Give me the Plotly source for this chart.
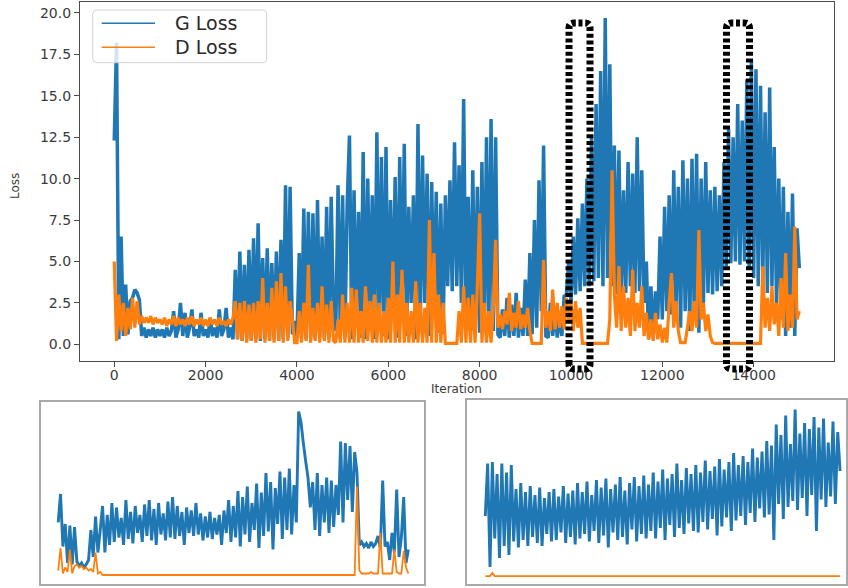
import plotly.graph_objects as go

W, H = 848, 588

# ---------------- data ----------------
iterations = list(range(0, 15001, 50))

g_loss = [
    12.3, 18.2, 0.3, 6.5, 0.5, 3.6, 0.6, 2.6, 2.8, 3.3, 3.1, 2.7, 0.5, 1.0, 0.4, 0.9, 0.5, 1.0, 0.4, 0.9,
    0.5, 0.9, 0.4, 1.0, 0.5, 0.8, 2.0, 0.4, 0.9, 2.5, 0.5, 1.9, 0.4, 1.0, 2.1, 0.5, 0.9, 0.4, 1.9, 0.5,
    0.9, 0.4, 1.6, 0.5, 1.0, 0.4, 2.1, 0.5, 0.9, 2.2, 0.4, 1.0, 0.3, 4.5, 0.3, 5.6, 0.2, 4.8, 0.3, 5.7,
    0.2, 6.4, 0.3, 7.3, 0.2, 5.2, 0.3, 5.8, 0.2, 4.9, 0.3, 5.6, 0.2, 6.3, 0.3, 9.6, 0.4, 9.5, 0.6, 1.4,
    0.5, 5.5, 0.4, 8.2, 0.3, 8.0, 0.4, 7.9, 0.3, 8.7, 0.4, 6.5, 0.3, 8.3, 0.4, 8.9, 1.8, 0.8, 9.6, 0.5,
    9.0, 0.4, 8.5, 12.6, 0.3, 9.3, 1.5, 8.0, 0.4, 11.6, 0.3, 10.0, 2.0, 9.0, 0.3, 12.8, 1.0, 11.3, 0.5, 11.9,
    0.3, 8.7, 1.5, 10.1, 0.4, 11.3, 2.0, 12.1, 0.5, 8.3, 2.5, 9.0, 0.3, 13.3, 1.0, 11.4, 2.5, 10.3, 0.5, 9.8,
    2.0, 9.2, 0.7, 8.5, 0.6, 9.0, 3.5, 9.9, 3.2, 12.2, 3.5, 10.8, 2.5, 14.8, 1.5, 8.9, 0.8, 10.5, 0.6, 9.5,
    0.7, 11.0, 0.8, 12.5, 0.7, 13.6, 0.8, 12.5, 0.6, 0.4, 2.1, 0.5, 2.8, 0.4, 2.4, 0.5, 3.1, 0.4, 2.2, 0.5,
    3.9, 0.5, 5.5, 0.6, 7.5, 1.0, 9.9, 2.0, 12.0, 0.5, 0.4, 2.5, 0.5, 2.2, 0.4, 1.8, 0.5, 2.9, 3.0, 5.0,
    2.5, 6.5, 3.0, 7.6, 3.2, 8.5, 3.5, 10.0, 3.5, 12.5, 3.8, 14.5, 4.0, 16.5, 3.5, 19.7, 4.0, 16.9, 3.5, 12.0,
    3.0, 11.7, 2.5, 9.3, 3.1, 11.0, 3.5, 10.3, 3.1, 12.5, 3.2, 10.5, 2.5, 5.0, 0.3, 3.5, 0.4, 3.2, 1.5, 6.5,
    1.5, 8.3, 2.0, 9.0, 1.8, 10.5, 2.2, 9.5, 1.0, 11.1, 2.0, 10.0, 0.8, 11.2, 1.5, 11.5, 0.7, 10.0, 2.5, 11.0,
    3.1, 9.3, 3.0, 9.5, 3.2, 9.0, 3.5, 11.0, 4.7, 13.0, 4.9, 12.5, 5.0, 14.5, 4.8, 13.5, 5.0, 16.0, 4.5, 17.2,
    4.0, 16.6, 3.5, 15.6, 3.9, 14.0, 3.1, 15.5, 3.5, 11.9, 2.5, 10.0, 1.5, 9.5, 0.5, 8.0, 1.0, 9.1, 0.5, 7.0,
    4.6,
]

d_loss = [
    5.0, 0.2, 3.0, 0.8, 2.5, 0.5, 2.2, 0.9, 2.8, 1.0, 2.6, 1.2, 1.7, 1.3, 1.6, 1.3, 1.7, 1.2, 1.6, 1.3,
    1.5, 1.2, 1.6, 1.1, 1.5, 1.2, 1.7, 1.1, 1.6, 1.2, 1.5, 1.1, 1.6, 1.2, 1.7, 1.1, 1.5, 1.2, 1.6, 1.1,
    1.5, 1.1, 1.6, 1.2, 1.5, 1.1, 1.6, 1.2, 1.4, 1.1, 1.5, 1.2, 1.6, 2.6, 0.3, 2.5, 0.2, 2.6, 0.1, 2.4,
    0.2, 2.5, 0.1, 2.6, 0.3, 4.0, 0.1, 2.5, 0.2, 3.4, 0.1, 3.8, 0.2, 4.3, 0.1, 3.5, 0.2, 2.6, 1.5, 0.1,
    0.1, 2.0, 0.1, 2.5, 0.2, 4.8, 0.1, 2.2, 0.2, 2.5, 0.1, 3.5, 0.2, 2.4, 0.1, 2.6, 0.2, 0.1, 1.5, 0.1,
    3.0, 0.1, 2.5, 0.1, 3.4, 0.1, 3.3, 0.1, 2.0, 0.1, 3.5, 0.2, 2.6, 0.1, 3.0, 0.1, 2.5, 0.1, 2.0, 0.1,
    2.8, 0.1, 5.0, 0.1, 3.0, 0.1, 4.5, 0.1, 2.5, 0.1, 2.0, 0.1, 3.8, 0.1, 2.5, 0.1, 2.2, 0.1, 7.5, 0.1,
    5.5, 0.1, 3.0, 0.1, 2.5, 0.05, 0.05, 0.05, 0.05, 0.05, 0.05, 2.0, 0.1, 3.5, 0.1, 2.8, 0.1, 3.0, 0.1, 3.5,
    7.9, 0.1, 2.5, 0.1, 2.0, 0.1, 2.3, 6.3, 1.0, 1.8, 0.9, 2.0, 1.2, 3.1, 0.8, 1.9, 1.0, 2.6, 0.9, 1.8,
    1.0, 2.2, 0.8, 0.05, 0.05, 0.05, 0.05, 0.05, 5.1, 1.0, 2.0, 0.8, 3.3, 0.9, 2.5, 1.0, 2.3, 0.9, 2.8, 1.5,
    2.5, 0.8, 2.6, 1.0, 2.2, 0.05, 0.05, 0.05, 0.05, 0.05, 0.05, 0.05, 0.05, 0.05, 0.05, 0.05, 0.05, 1.5, 10.5, 3.0,
    1.0, 4.7, 0.8, 3.5, 1.0, 2.8, 0.5, 4.5, 0.8, 2.5, 1.0, 3.5, 0.5, 1.9, 0.3, 1.5, 0.2, 1.9, 0.3, 1.2,
    0.1, 1.0, 0.1, 2.5, 4.3, 1.0, 2.6, 0.8, 0.1, 0.1, 0.1, 1.0, 2.0, 0.8, 2.6, 1.0, 6.9, 1.5, 2.5, 0.8,
    1.8, 0.5, 0.1, 0.05, 0.05, 0.05, 0.05, 0.05, 0.05, 0.05, 0.05, 0.05, 0.05, 0.05, 0.05, 0.05, 0.05, 0.05, 0.05, 0.05,
    0.05, 0.05, 0.05, 0.05, 4.7, 1.0, 2.8, 0.8, 3.5, 1.2, 2.5, 0.5, 4.0, 1.0, 5.5, 0.8, 3.0, 1.0, 7.1, 1.5,
    2.0,
]

# left zoomed inset (first dotted window)
zoom1_index = list(range(151))
zoom1_g = [
    3.5, 5.4, 1.9, 3.4, 0.8, 3.3, 0.7, 3.2, 0.9, 0.6,
    0.8, 0.5, 0.7, 1.0, 3.0, 1.2, 3.9, 1.5, 3.0, 4.6,
    1.5, 4.0, 2.0, 4.8, 2.2, 4.5, 2.5, 3.8, 2.0, 5.0,
    2.4, 4.2, 2.1, 4.6, 2.8, 4.0, 2.2, 4.7, 2.6, 5.0,
    2.3, 4.4, 2.0, 4.8, 2.7, 4.1, 2.3, 4.9, 2.5, 5.2,
    2.4, 4.6, 2.6, 4.2, 2.0, 4.5, 2.8, 4.3, 2.6, 4.8,
    2.7, 4.1, 2.3, 3.9, 2.5, 4.2, 2.4, 3.8, 2.7, 4.0,
    2.0, 4.3, 2.8, 5.0, 2.2, 4.6, 2.5, 5.6, 1.9, 5.2,
    2.7, 5.9, 2.2, 4.8, 3.0, 6.1, 1.8, 5.5, 2.6, 6.8,
    2.9, 6.2, 1.7, 5.8, 3.4, 6.9, 2.4, 6.5, 3.0, 7.1,
    2.7, 6.0, 3.5, 10.9, 10.2, 8.8, 7.6, 6.5, 4.5, 6.2,
    3.0, 6.8, 2.6, 6.0, 3.5, 6.5, 2.8, 6.3, 3.2, 6.0,
    4.0, 8.9, 3.5, 8.8, 5.0, 8.6, 4.2, 8.2, 6.8, 2.0,
    2.2, 1.9, 2.1, 1.8, 2.2, 1.9, 2.1, 2.6, 1.8, 6.3,
    1.9, 2.2, 1.0, 2.8, 1.5, 5.7, 1.2, 2.5, 5.2, 0.8, 1.7,
]
zoom1_d_index = [0, 1, 2, 3, 4, 5, 6, 7, 8, 9, 10, 11, 12, 13, 14, 15, 16, 17, 18, 19,
                 127, 128, 129, 130, 131, 132, 133, 134, 135, 136, 137, 138, 139, 140,
                 141, 142, 143, 144, 145, 146, 147, 148, 149, 150]
zoom1_d = [0.3, 1.8, 0.1, 0.5, 0.2, 1.7, 0.1, 0.6, 0.7, 0.5, 0.6, 0.4, 0.5, 0.3, 0.4, 0.2, 1.5, 0.1, 0.2, 0.0,
           0.0, 5.9, 0.3, 0.1, 0.1, 0.1, 0.1, 0.2, 0.1, 0.1, 0.1, 2.8, 0.1, 0.1,
           0.1, 0.1, 0.1, 1.7, 0.2, 0.1, 0.1, 1.6, 0.5, 0.1]

# right zoomed inset (second dotted window)
zoom2_index = list(range(151))
zoom2_g = [
    4.0, 7.5, 0.6, 7.6, 2.5, 6.8, 1.2, 7.5, 2.0, 6.9,
    1.4, 7.4, 2.3, 5.8, 1.9, 6.2, 2.4, 5.6, 2.0, 6.0,
    2.6, 5.4, 2.2, 5.9, 2.0, 5.2, 2.8, 5.6, 2.3, 5.8,
    2.4, 5.3, 2.9, 6.0, 2.2, 5.5, 2.6, 5.7, 2.1, 6.2,
    2.5, 5.6, 2.8, 6.3, 2.3, 5.4, 3.0, 6.4, 2.2, 5.9,
    2.7, 6.5, 1.9, 5.8, 2.9, 6.1, 2.4, 6.6, 2.6, 5.7,
    2.1, 6.2, 3.1, 6.6, 2.3, 6.0, 2.8, 6.7, 2.5, 6.1,
    3.0, 6.9, 2.5, 6.3, 3.2, 7.1, 2.4, 6.5, 3.4, 6.8,
    2.6, 7.5, 3.2, 6.4, 2.8, 7.2, 3.5, 6.8, 3.0, 7.4,
    2.9, 6.9, 3.6, 7.7, 3.1, 7.0, 3.8, 7.3, 2.7, 7.8,
    3.3, 7.1, 3.9, 7.6, 3.0, 8.2, 3.7, 7.4, 4.0, 8.0,
    3.4, 7.6, 4.2, 8.5, 3.6, 7.9, 4.5, 8.3, 3.9, 9.0,
    4.1, 8.7, 2.4, 10.1, 4.8, 9.4, 3.8, 10.7, 4.6, 8.8,
    5.0, 11.1, 4.4, 9.5, 5.2, 10.2, 4.0, 9.8, 5.4, 10.6,
    3.0, 9.9, 5.1, 10.5, 4.6, 8.9, 5.3, 10.3, 4.8, 9.6, 7.0,
]
zoom2_d_index = [0, 2, 3, 4, 150]
zoom2_d = [0.0, 0.0, 0.2, 0.0, 0.0]

x_tick_vals = [0, 2000, 4000, 6000, 8000, 10000, 12000, 14000]
y_tick_vals = [0.0, 2.5, 5.0, 7.5, 10.0, 12.5, 15.0, 17.5, 20.0]

BLUE = "#1f77b4"
ORANGE = "#ff7f0e"
FONT = "DejaVu Sans"


def fx(p):
    return p / W


def fy(p):
    return 1 - p / H


fig = go.Figure()

# main chart
fig.add_trace(go.Scatter(x=iterations, y=g_loss, mode="lines", name="G Loss",
                         line=dict(color=BLUE, width=3.5, simplify=False), xaxis="x", yaxis="y"))
fig.add_trace(go.Scatter(x=iterations, y=d_loss, mode="lines", name="D Loss",
                         line=dict(color=ORANGE, width=3.2, simplify=False), xaxis="x", yaxis="y"))

# left inset
fig.add_trace(go.Scatter(x=zoom1_index, y=zoom1_g, mode="lines",
                         line=dict(color=BLUE, width=2.9, simplify=False), xaxis="x2", yaxis="y2"))
fig.add_trace(go.Scatter(x=zoom1_d_index, y=zoom1_d, mode="lines",
                         line=dict(color=ORANGE, width=1.8, simplify=False), xaxis="x2", yaxis="y2"))

# right inset
fig.add_trace(go.Scatter(x=zoom2_index, y=zoom2_g, mode="lines",
                         line=dict(color=BLUE, width=2.9, simplify=False), xaxis="x3", yaxis="y3"))
fig.add_trace(go.Scatter(x=zoom2_d_index, y=zoom2_d, mode="lines",
                         line=dict(color=ORANGE, width=1.8, simplify=False), xaxis="x3", yaxis="y3"))

main_axis = dict(showgrid=False, zeroline=False, showline=True, mirror=True, automargin=False,
                 linecolor="#4a4a4a", linewidth=1.2, ticks="outside", ticklen=5,
                 tickwidth=1.2, tickcolor="#4a4a4a",
                 tickfont=dict(family=FONT, size=14, color="#3a3a3a"))

inset_axis = dict(showgrid=False, zeroline=False, showline=True, mirror=True, automargin=False,
                  linecolor="#a9a9a9", linewidth=1.5, ticks="", showticklabels=False)

fig.update_layout(
    width=W, height=H,
    margin=dict(l=0, r=0, t=0, b=0, autoexpand=False),
    paper_bgcolor="white", plot_bgcolor="white",
    showlegend=False,
    xaxis=dict(main_axis, domain=[fx(80.0), fx(833.6)], range=[-750, 15750],
               tickvals=x_tick_vals, ticktext=[str(v) for v in x_tick_vals], anchor="y",
               ticklabelstandoff=-3),
    yaxis=dict(main_axis, domain=[fy(360.5), fy(1.7)], range=[-0.98, 20.68],
               tickvals=y_tick_vals, ticktext=[f"{v:.1f}" for v in y_tick_vals], anchor="x"),
    xaxis2=dict(inset_axis, domain=[fx(40.7), fx(424)], range=[-7.5, 156.7], anchor="y2"),
    yaxis2=dict(inset_axis, domain=[fy(584), fy(401.7)], range=[-0.6, 11.55], anchor="x2"),
    xaxis3=dict(inset_axis, domain=[fx(467.3), fx(846)], range=[-7.6, 152.5], anchor="y3"),
    yaxis3=dict(inset_axis, domain=[fy(584), fy(400)], range=[-0.53, 11.73], anchor="x3"),
)

# axis titles
fig.add_annotation(x=fx(457), y=fy(388.5), xref="paper", yref="paper", text="Iteration",
                   showarrow=False, xanchor="center", yanchor="middle",
                   font=dict(family=FONT, size=12, color="#3a3a3a"))
fig.add_annotation(x=fx(15), y=fy(186), xref="paper", yref="paper", text="Loss",
                   showarrow=False, xanchor="center", yanchor="middle", textangle=-90,
                   font=dict(family=FONT, size=12, color="#3a3a3a"))


def rounded_rect(x0, y0, x1, y1, r):
    # pixel coordinates -> paper path with rounded corners
    rx, ry = r / W, r / H
    X0, X1 = fx(x0), fx(x1)
    Y0, Y1 = fy(y0), fy(y1)  # Y0 top, Y1 bottom
    return (f"M {X0},{Y1 + ry} L {X0},{Y0 - ry} Q {X0},{Y0} {X0 + rx},{Y0} "
            f"L {X1 - rx},{Y0} Q {X1},{Y0} {X1},{Y0 - ry} "
            f"L {X1},{Y1 + ry} Q {X1},{Y1} {X1 - rx},{Y1} "
            f"L {X0 + rx},{Y1} Q {X0},{Y1} {X0},{Y1 + ry} Z")


# legend (matplotlib style, drawn on top of the lines)
fig.add_shape(type="path", path=rounded_rect(92.7, 10, 266.7, 62.7, 4), xref="paper", yref="paper",
              line=dict(color="#d2d2d2", width=1), fillcolor="rgba(255,255,255,0.8)", layer="above")
fig.add_shape(type="line", x0=fx(101.7), x1=fx(155), y0=fy(23.3), y1=fy(23.3), xref="paper", yref="paper",
              line=dict(color=BLUE, width=1.6), layer="above")
fig.add_shape(type="line", x0=fx(101.7), x1=fx(155), y0=fy(47.3), y1=fy(47.3), xref="paper", yref="paper",
              line=dict(color=ORANGE, width=1.6), layer="above")
fig.add_annotation(x=fx(173), y=fy(23.3), xref="paper", yref="paper", text="G Loss", showarrow=False,
                   xanchor="left", yanchor="middle", font=dict(family=FONT, size=19, color="#2a2a2a"))
fig.add_annotation(x=fx(173), y=fy(47.3), xref="paper", yref="paper", text="D Loss", showarrow=False,
                   xanchor="left", yanchor="middle", font=dict(family=FONT, size=19, color="#2a2a2a"))

# dotted highlight windows
for (xl, xr) in [(569, 590), (726.5, 749.5)]:
    fig.add_shape(type="path", path=rounded_rect(xl, 23, xr, 369, 5), xref="paper", yref="paper",
                  line=dict(color="black", width=7, dash="4px,2.7px"), layer="above")

fig.write_html("out.html", post_script="document.body.style.margin='0px';",
               config={"displayModeBar": False})
